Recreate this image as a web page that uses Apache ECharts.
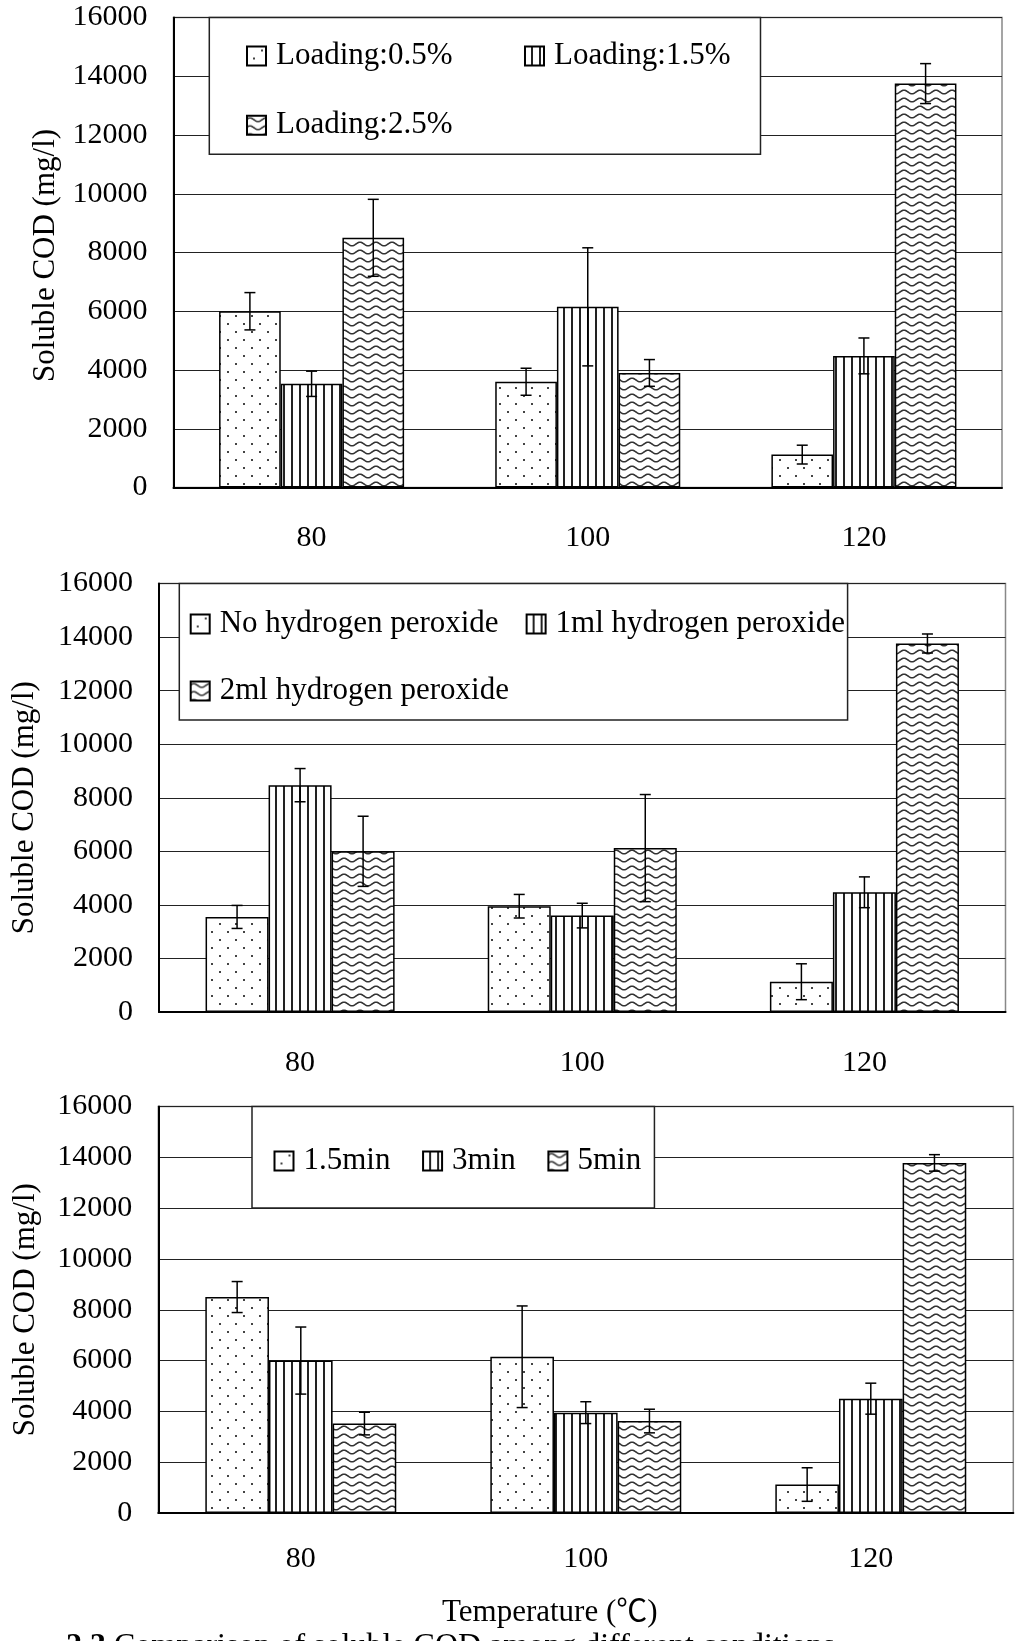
<!DOCTYPE html>
<html>
<head>
<meta charset="utf-8">
<script src="https://cdn.jsdelivr.net/npm/echarts@6/dist/echarts.min.js"></script>
<style>
  html, body { margin: 0; padding: 0; background: #fff; }
  #chart { width: 1017px; height: 1641px; }
</style>
</head>
<body>
<div id="chart"></div>
<script>
// ---- data -------------------------------------------------------------
const temperatures = ['80', '100', '120'];
const codTicks = [0, 2000, 4000, 6000, 8000, 10000, 12000, 14000, 16000];

// Panel 1: substrate loading
const loadingNames = ['Loading:0.5%', 'Loading:1.5%', 'Loading:2.5%'];
const loading05 = [6000, 3600, 1120];
const loading05Err = [635, 460, 320];
const loading15 = [3530, 6150, 4480];
const loading15Err = [430, 2010, 610];
const loading25 = [8500, 3900, 13750];
const loading25Err = [1310, 455, 680];

// Panel 2: hydrogen peroxide dose
const peroxideNames = ['No hydrogen peroxide', '1ml hydrogen peroxide', '2ml hydrogen peroxide'];
const peroxide0 = [3550, 3950, 1130];
const peroxide0Err = [430, 440, 670];
const peroxide1 = [8470, 3600, 4470];
const peroxide1Err = [620, 460, 575];
const peroxide2 = [6000, 6120, 13760];
const peroxide2Err = [1310, 2000, 355];

// Panel 3: treatment time
const timeNames = ['1.5min', '3min', '5min'];
const time15 = [8500, 6150, 1120];
const time15Err = [610, 2000, 660];
const time3 = [6000, 3950, 4500];
const time3Err = [1320, 430, 610];
const time5 = [3520, 3620, 13780];
const time5Err = [445, 465, 325];

// ---- fill patterns -----------------------------------------------------
function tile(w, h, draw) {
  const c = document.createElement('canvas');
  c.width = w; c.height = h;
  const ctx = c.getContext('2d');
  ctx.fillStyle = '#fff';
  ctx.fillRect(0, 0, w, h);
  draw(ctx);
  return { image: c, repeat: 'repeat' };
}
const dotFill = tile(16, 16, ctx => {
  ctx.fillStyle = '#444';
  ctx.fillRect(3, 3, 2, 2);
  ctx.fillRect(11, 11, 2, 2);
});
const stripeFill = tile(8, 8, ctx => {
  ctx.fillStyle = '#222';
  ctx.fillRect(3, 0, 2, 8);
});
const waveFill = tile(16, 8, ctx => {
  ctx.strokeStyle = '#333';
  ctx.lineWidth = 1.6;
  ctx.beginPath();
  for (let x = -1; x <= 17; x += 0.5) {
    const y = 4 + 1.8 * Math.cos(2 * Math.PI * x / 16);
    if (x === -1) ctx.moveTo(x, y); else ctx.lineTo(x, y);
  }
  ctx.stroke();
});
const fills = [dotFill, stripeFill, waveFill];

// ---- shared styles -----------------------------------------------------
const SERIF = "'Liberation Serif', 'Times New Roman', 'Noto Sans CJK SC', serif";
const GAP = 0.33;
const SQUARE = 'path://M0,0H10V10H0Z';

const grids = [
  { left: 173.5, right: 15, top: 17.5, bottom: 1641 - 487.5 },
  { left: 159, right: 11.5, top: 583.5, bottom: 1641 - 1012 },
  { left: 158.3, right: 3.7, top: 1106.5, bottom: 1641 - 1513 }
];
const yNameGap = [102.5, 118.5, 117];
const yNamePad = [[0, 6, 0, 0], [0, 20, 0, 0], [0, 0, 0, 0]];
const xLabelMargin = [36, 36, 31];

function xAxisFor(i) {
  const ax = {
    type: 'category', gridIndex: i, data: temperatures,
    boundaryGap: true,
    axisLine: { lineStyle: { color: '#000', width: 2 } },
    axisTick: { inside: true, length: 9, lineStyle: { color: '#000', width: 1.5 } },
    axisLabel: { margin: xLabelMargin[i], fontFamily: SERIF, fontSize: 30, lineHeight: 30, color: '#000' },
    splitLine: { show: false }
  };
  if (i === 2) {
    ax.name = 'Temperature (\u2103)';
    ax.nameLocation = 'middle';
    ax.nameGap = 84;
    ax.nameTextStyle = { fontFamily: SERIF, fontSize: 31, lineHeight: 31, color: '#000', padding: [0, 72, 0, 0] };
  }
  return ax;
}
function yAxisFor(i) {
  return {
    type: 'value', gridIndex: i,
    min: codTicks[0], max: codTicks[codTicks.length - 1],
    interval: codTicks[1] - codTicks[0],
    axisLine: { show: true, lineStyle: { color: '#000', width: 2 } },
    axisTick: { show: false },
    axisLabel: {
      margin: 26, fontFamily: SERIF, fontSize: 30, lineHeight: 30, color: '#000', padding: [9, 0, 0, 0],
      formatter: v => String(v)
    },
    splitLine: { lineStyle: { color: '#222', width: 1.2 } },
    name: 'Soluble COD (mg/l)', nameLocation: 'middle', nameRotate: 90,
    nameGap: yNameGap[i],
    nameTextStyle: { fontFamily: SERIF, fontSize: 31, lineHeight: 31, color: '#000', padding: yNamePad[i] }
  };
}

function barSeries(name, values, k, j) {
  return {
    type: 'bar', name: name, data: values,
    xAxisIndex: k, yAxisIndex: k,
    barGap: '0%', barCategoryGap: (GAP * 100) + '%',
    itemStyle: { color: fills[j], borderColor: '#000', borderWidth: 1.5 },
    emphasis: { disabled: true },
    z: 2
  };
}

// whiskers drawn at the centre of the j-th bar of each group
function errorSeries(values, errs, k, j, count) {
  return {
    type: 'custom', xAxisIndex: k, yAxisIndex: k, z: 3,
    data: values.map((v, c) => [c, v, errs[c]]),
    renderItem: function (params, api) {
      const cat = api.value(0), v = api.value(1), e = api.value(2);
      const mid = api.coord([cat, v]);
      const band = api.size([1, 0])[0];
      const used = band * (1 - GAP);
      const bw = used / count;
      const x = mid[0] - used / 2 + bw * (j + 0.5);
      const yTop = api.coord([cat, v + e])[1];
      const yBot = api.coord([cat, v - e])[1];
      const cap = 5.5;
      const st = { stroke: '#000', lineWidth: 1.5 };
      return {
        type: 'group',
        children: [
          { type: 'line', shape: { x1: x, y1: yTop, x2: x, y2: yBot }, style: st },
          { type: 'line', shape: { x1: x - cap, y1: yTop, x2: x + cap, y2: yTop }, style: st },
          { type: 'line', shape: { x1: x - cap, y1: yBot, x2: x + cap, y2: yBot }, style: st }
        ]
      };
    }
  };
}

function legend(opts) {
  return Object.assign({
    orient: 'horizontal', icon: SQUARE, itemWidth: 29, itemHeight: 19,
    selectedMode: false,
    textStyle: { fontFamily: SERIF, fontSize: 31, lineHeight: 31, color: '#000' },
    backgroundColor: '#fff', borderColor: '#222', borderWidth: 1.5,
    z: 5
  }, opts);
}
function legendRow(opts) {
  return legend(Object.assign({ padding: 0, backgroundColor: 'transparent', borderWidth: 0, z: 6 }, opts));
}

const panels = [
  { names: loadingNames, vals: [loading05, loading15, loading25], errs: [loading05Err, loading15Err, loading25Err] },
  { names: peroxideNames, vals: [peroxide0, peroxide1, peroxide2], errs: [peroxide0Err, peroxide1Err, peroxide2Err] },
  { names: timeNames, vals: [time15, time3, time5], errs: [time15Err, time3Err, time5Err] }
];

const series = [];
panels.forEach((p, k) => {
  p.vals.forEach((v, j) => series.push(barSeries(p.names[j], v, k, j)));
  p.vals.forEach((v, j) => series.push(errorSeries(v, p.errs[j], k, j, p.vals.length)));
});

const option = {
  animation: false,
  backgroundColor: '#fff',
  title: {
    text: '{b|2.3} Comparison of soluble COD among different conditions',
    left: 66, top: 1631, padding: 0,
    textStyle: {
      fontFamily: SERIF, fontSize: 32, lineHeight: 32, fontWeight: 'normal', color: '#000',
      rich: { b: { fontFamily: SERIF, fontSize: 32, lineHeight: 32, fontWeight: 'bold', color: '#000' } }
    }
  },
  grid: grids.map(g => Object.assign({
    show: true, borderColor: '#888', borderWidth: 1.5, backgroundColor: 'transparent',
    containLabel: false, outerBoundsMode: 'none'
  }, g)),
  xAxis: [0, 1, 2].map(xAxisFor),
  yAxis: [0, 1, 2].map(yAxisFor),
  legend: [
    legend({ data: loadingNames.slice(0, 2), left: 209.3, top: 17.5, padding: [23, 30, 82.8, 36.7], itemGap: 71.5 }),
    legendRow({ data: loadingNames.slice(2), left: 246, top: 109.7 }),
    legend({ data: peroxideNames.slice(0, 2), left: 179.3, top: 583.5, padding: [25, 2.7, 80.5, 10.4], itemGap: 27 }),
    legendRow({ data: peroxideNames.slice(2), left: 189.7, top: 675.5 }),
    legend({ data: timeNames, left: 252, top: 1106.5, padding: [39, 13.3, 31.5, 21.5], itemGap: 31.6 })
  ],
  series: series
};

const chart = echarts.init(document.getElementById('chart'), null, { renderer: 'canvas', width: 1017, height: 1641 });
chart.setOption(option);
</script>
</body>
</html>
